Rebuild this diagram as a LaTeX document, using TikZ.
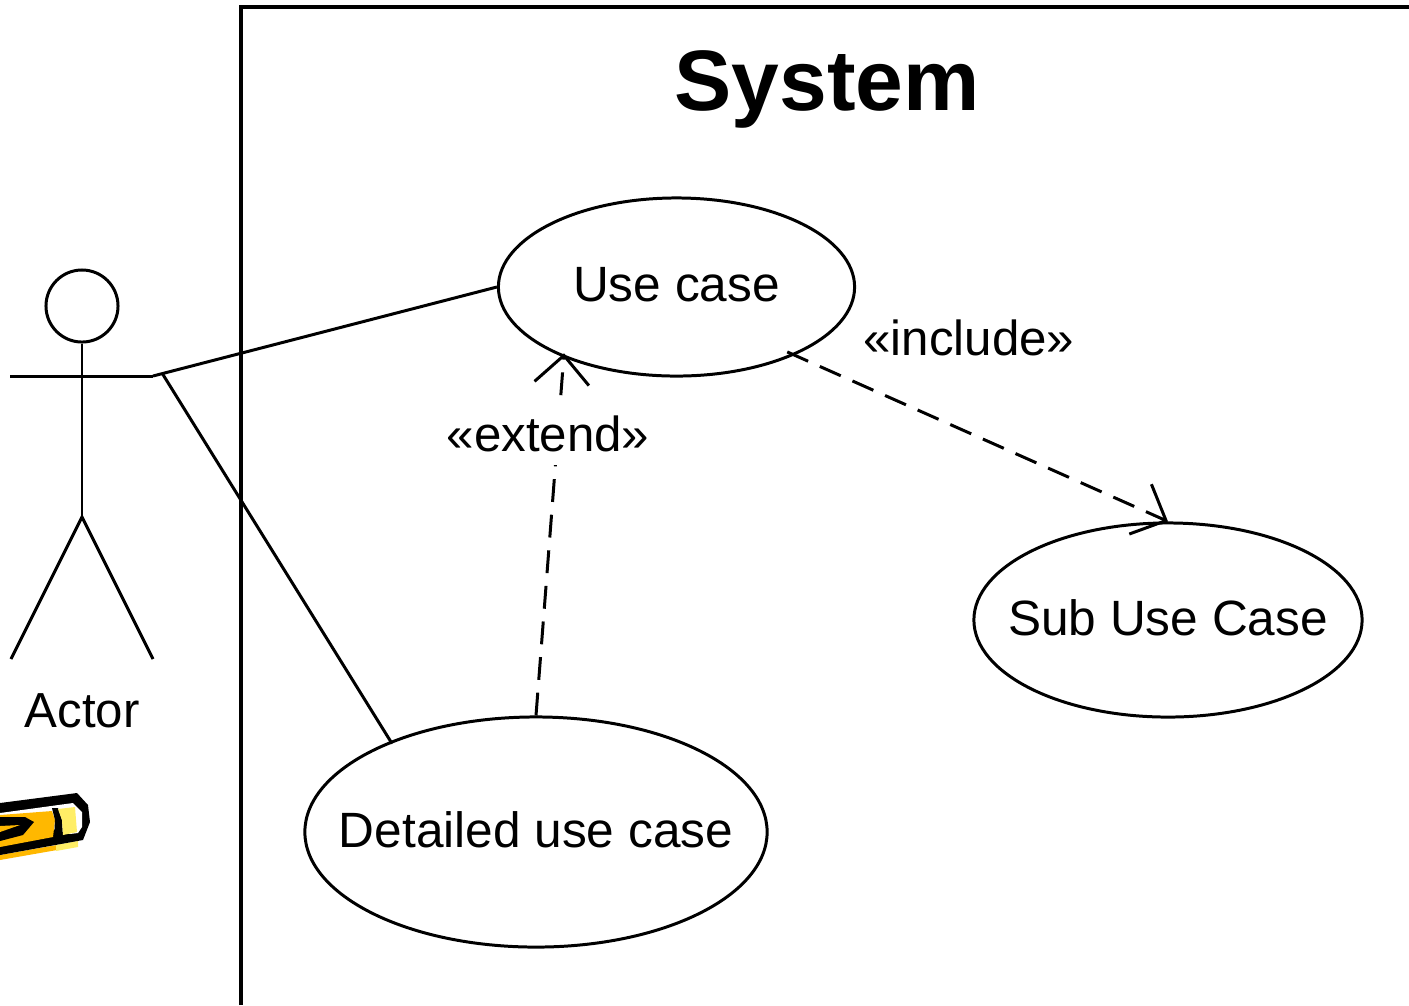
\documentclass[tikz,border=0pt]{standalone}
\usepackage{fontspec}
\setmainfont{Liberation Sans}
\usetikzlibrary{arrows.meta,shapes.geometric}

\definecolor{pencilorange}{HTML}{FFB800}
\definecolor{pencilyellow}{HTML}{FFEE66}

\tikzset{
  usecasenode/.style={draw, ellipse, line width=0.85pt, inner sep=0pt},
  caselabel/.style={inner sep=0pt, yshift=0.02cm, font=\fontsize{14.1}{16}\selectfont},
  plainlabel/.style={inner sep=1pt, font=\fontsize{14}{16}\selectfont},
  assoc/.style={line width=0.85pt},
  depend/.style={line width=0.85pt, dash pattern=on 6.5pt off 3.65pt, -{Straight Barb[length=8pt, width=15.5pt, line width=0.85pt]}},
}

\begin{document}
\begin{tikzpicture}[x=0.01cm, y=-0.01cm]
    \useasboundingbox (0,0) rectangle (1409,1005);
    % System boundary
    \coordinate (sysbottom) at (241,1005);
    \coordinate (syscorner) at (241,7);
    \coordinate (sysright) at (1409,7);
    \draw[line width=1.1pt] (sysbottom) -- (syscorner) -- (sysright);
    \node[inner sep=0pt, font=\fontsize{24.4}{28}\bfseries\selectfont] (system) at (827,89) {System};
    % Use cases
    \node[usecasenode, minimum width=3.56cm, minimum height=1.78cm, label={[caselabel]center:Use case}] (usecase) at (676.5,287) {};
    \node[usecasenode, minimum width=3.88cm, minimum height=1.94cm, label={[caselabel]center:Sub Use Case}] (subcase) at (1168,620) {};
    \node[usecasenode, minimum width=4.62cm, minimum height=2.30cm, label={[caselabel]center:Detailed use case}] (detailed) at (536,832) {};
    % Actor
    \node[draw, circle, line width=0.85pt, minimum size=0.72cm, inner sep=0pt] (head) at (82,306) {};
    \coordinate (crotch) at (82,517);
    \coordinate (armleft) at (10,376);
    \coordinate (armright) at (153,376);
    \coordinate (footleft) at (11,659);
    \coordinate (footright) at (153,659);
    \coordinate (handtip) at (162,373);
    \draw[assoc] (head) -- (crotch);
    \draw[assoc] (armleft) -- (armright);
    \draw[assoc] (footleft) -- (crotch) -- (footright);
    \node[plainlabel] (actor) at (82,711) {Actor};
    % Associations
    \draw[assoc] (armright) -- (usecase.west);
    \draw[assoc, shorten >=-0.85pt] (handtip) -- (detailed.148);
    % Dependencies
    \draw[depend, shorten >=-1.2pt] (detailed.north) -- (usecase.212);
    \draw[depend, shorten <=-2.3pt] (usecase.-30) -- (subcase.north);
    \node[plainlabel, fill=white, inner ysep=3.7pt] (extend) at (548,434) {«extend»};
    \node[plainlabel] (include) at (969,338) {«include»};
    % Pencil
    \begin{scope}
      \clip (0,770) rectangle (110,870);
      \fill[pencilorange] (0,855) -- (57,845) -- (57,850) -- (0,860) -- cycle;
      \fill[pencilyellow] (56,845) -- (78,841) -- (78,847) -- (56,851) -- cycle;
      \fill[black] (0,803) -- (77,793) -- (88,805) -- (90,822) -- (83,840) -- (0,855) -- cycle;
      \fill[white] (0,813) -- (73,803) -- (82,812) -- (82,827) -- (78,833) -- (70,834) -- (0,815) -- cycle;
      \fill[pencilorange] (0,815) -- (52,811) -- (55,820) -- (53,837) -- (0,847) -- cycle;
      \fill[black] (0,817) -- (25,817) -- (34,822) -- (23,835) -- (0,841) -- cycle;
      \fill[pencilorange] (0,826) -- (20,825) -- (0,832) -- cycle;
      \fill[black] (52,808) -- (58,808) -- (62,820) -- (63,836) -- (54,838) -- (55,820) -- cycle;
      \fill[pencilyellow] (58,809) -- (75,807) -- (77,832) -- (63,835) -- (62,820) -- cycle;
    \end{scope}
\end{tikzpicture}
\end{document}
